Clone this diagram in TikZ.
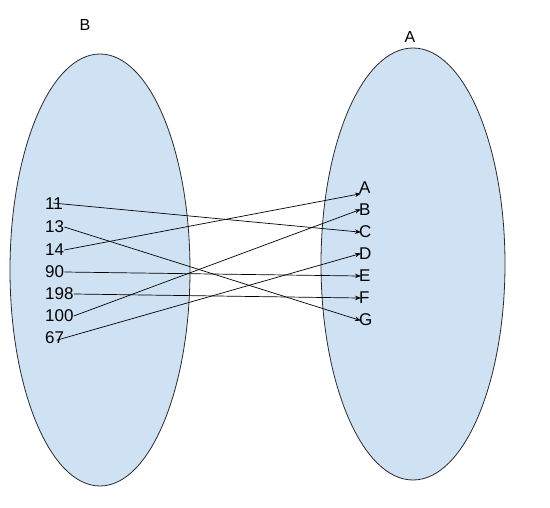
\documentclass[tikz,border=0pt]{standalone}
\usepackage{fontspec}
\setmainfont{Liberation Sans}
\usepackage{xcolor}
\usetikzlibrary{arrows.meta}
\definecolor{setfill}{HTML}{CFE2F3}
\definecolor{setline}{HTML}{2B2B2B}

\tikzset{
  setblob/.style={draw=setline, line width=0.8pt, fill=setfill},
  elem/.style={inner sep=0pt, anchor=west, font=\fontsize{17}{17}\selectfont},
  setname/.style={inner sep=0pt, font=\fontsize{16}{16}\selectfont},
  maps/.style={-{Stealth[length=6pt, width=4.5pt]}, line width=0.7pt, black, shorten >=-2pt}
}

\begin{document}
\begin{tikzpicture}[x=1pt, y=-1pt]
  \useasboundingbox (0,0) rectangle (550,508);
  \draw[setblob] (100,270) ellipse [x radius=90, y radius=216];
  \draw[setblob] (413,264) ellipse [x radius=92, y radius=216];
  \node[setname] (nameB) at (85,25) {B};
  \node[setname] (nameA) at (410,37) {A};
  \node[elem] (n11) at (45,204) {11};
  \node[elem] (n13) at (45,227) {13};
  \node[elem] (n14) at (45,250) {14};
  \node[elem] (n90) at (45,272) {90};
  \node[elem] (n198) at (45,294) {198};
  \node[elem] (n100) at (45,316) {100};
  \node[elem] (n67) at (45,338) {67};
  \node[elem] (lA) at (359,188) {A};
  \node[elem] (lB) at (359,210) {B};
  \node[elem] (lC) at (359,232) {C};
  \node[elem] (lD) at (359,254) {D};
  \node[elem] (lE) at (359,276) {E};
  \node[elem] (lF) at (359,298) {F};
  \node[elem] (lG) at (359,320) {G};
  \draw[maps, shorten <=-10pt] (n11.east) -- (lC.west);
  \draw[maps] (n13.east) -- (lG.west);
  \draw[maps] (n14.east) -- (lA.south west);
  \draw[maps] (n90.east) -- (lE.west);
  \draw[maps] (n198.east) -- (lF.west);
  \draw[maps] (n100.east) -- (lB.west);
  \draw[maps, shorten <=-8pt] (n67.east) -- (lD.west);
\end{tikzpicture}
\end{document}
